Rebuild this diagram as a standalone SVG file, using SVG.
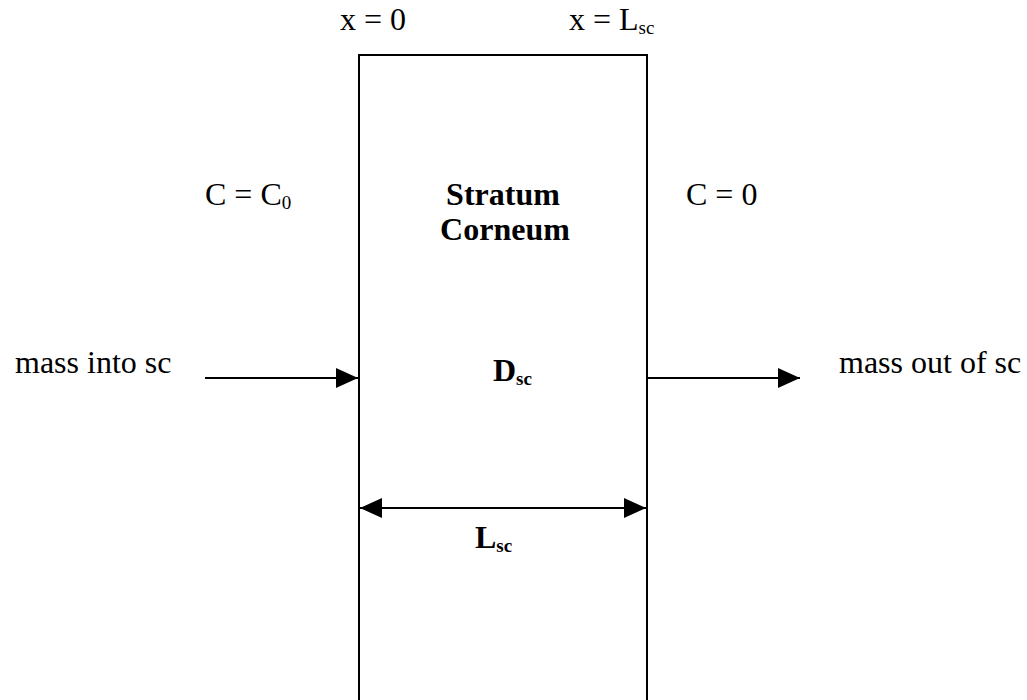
<svg xmlns="http://www.w3.org/2000/svg" width="1027" height="700" viewBox="0 0 1027 700">
<style>
text{font-family:"Liberation Serif","Times New Roman",serif;font-size:32px;fill:#000}
.b{font-weight:bold}
.sub{font-size:19px}
.ln{stroke:#000;stroke-width:2;fill:none}
</style>
<defs>
<marker id="ah" viewBox="0 0 22 20" refX="22" refY="10" markerWidth="22" markerHeight="20" markerUnits="userSpaceOnUse" orient="auto-start-reverse">
<path d="M0,0 L22,10 L0,20 Z" fill="#000"/>
</marker>
</defs>
<rect width="1027" height="700" fill="#fff"/>
<g id="stratum-corneum">
<rect class="ln" x="359" y="55" width="288" height="670"/>
<text class="b" x="503" y="205" text-anchor="middle">Stratum</text>
<text class="b" x="505" y="240" text-anchor="middle">Corneum</text>
<text class="b" x="493" y="381">D<tspan class="sub" dy="4">sc</tspan></text>
</g>
<g id="labels">
<text x="340" y="30">x = 0</text>
<text x="569" y="30">x = L<tspan class="sub" dy="4">sc</tspan></text>
<text x="205" y="205">C = C<tspan class="sub" dy="4">0</tspan></text>
<text x="686" y="205">C = 0</text>
<text x="15" y="373">mass into sc</text>
<text x="839" y="373">mass out of sc</text>
<text class="b" x="475" y="548">L<tspan class="sub" dy="4">sc</tspan></text>
</g>
<g id="connectors">
<line class="ln" x1="205" y1="378" x2="358" y2="378" marker-end="url(#ah)"/>
<line class="ln" x1="647" y1="378" x2="800" y2="378" marker-end="url(#ah)"/>
<line class="ln" x1="360" y1="508" x2="646" y2="508" marker-start="url(#ah)" marker-end="url(#ah)"/>
</g>
</svg>
